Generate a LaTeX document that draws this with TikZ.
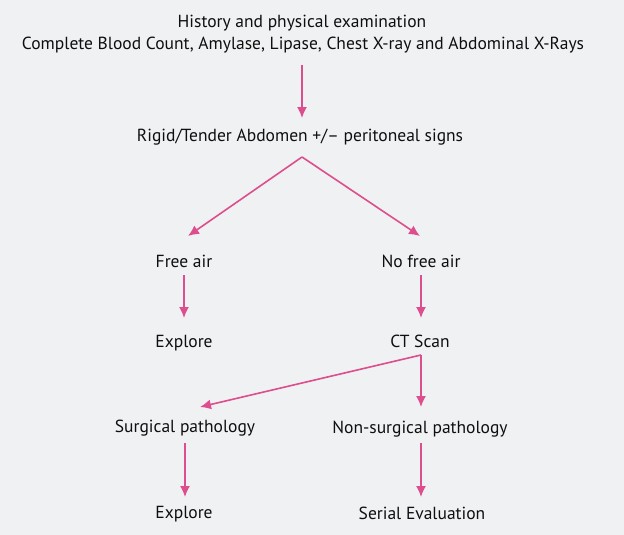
\documentclass[tikz,border=0pt]{standalone}
\usepackage{fontspec}
\setmainfont{PT Sans}
\usetikzlibrary{arrows.meta,calc}
\definecolor{bg}{RGB}{240,241,242}
\definecolor{pinkc}{RGB}{221,78,142}
\definecolor{ink}{RGB}{15,15,15}
\tikzset{
  txt/.style={inner sep=0pt, text height=17.5pt, text depth=3.5pt, font=\fontsize{17.5}{20}\selectfont, text=ink},
  arr/.style={draw=pinkc, line width=1.6pt, -{Latex[length=11pt,width=10pt]}}
}
\begin{document}
\begin{tikzpicture}[x=1pt,y=-1pt]
\fill[bg] (0,0) rectangle (624,535);
\useasboundingbox (0,0) rectangle (624,535);
\node[txt] (hist1) at (302,21) {History and physical examination};
\node[txt] (hist2) at (303,43) {Complete Blood Count, Amylase, Lipase, Chest X-ray and Abdominal X-Rays};
\node[txt] (rigid) at (300,134) {Rigid/Tender Abdomen +/– peritoneal signs};
\node[txt] (free) at (184,260) {Free air};
\node[txt] (nofree) at (421,260) {No free air};
\node[txt] (explore1) at (184,340) {Explore};
\node[txt] (ct) at (420,340) {CT Scan};
\node[txt] (surg) at (185,425) {Surgical pathology};
\node[txt] (nonsurg) at (420,426) {Non-surgical pathology};
\node[txt] (explore2) at (184,511) {Explore};
\node[txt] (serial) at (422,512) {Serial Evaluation};

\draw[arr] ($(hist2)+(-1,22)$) -- ($(rigid)+(2,-16)$);
\draw[arr] ($(rigid)+(2,23)$) -- ($(free)+(4,-24)$);
\draw[arr] ($(rigid)+(2,23)$) -- ($(nofree)+(-1,-24)$);
\draw[arr] ($(free)+(0,15)$) -- ($(explore1)+(0,-22)$);
\draw[arr] ($(nofree)+(0,15)$) -- ($(ct)+(1,-22)$);
\draw[arr] ($(ct)+(1,15)$) -- ($(surg)+(15,-18)$);
\draw[arr] ($(ct)+(1,15)$) -- ($(nonsurg)+(1,-19)$);
\draw[arr] ($(surg)+(0,18)$) -- ($(explore2)+(1,-14)$);
\draw[arr] ($(nonsurg)+(1,17)$) -- ($(serial)+(-1,-15)$);
\end{tikzpicture}
\end{document}
